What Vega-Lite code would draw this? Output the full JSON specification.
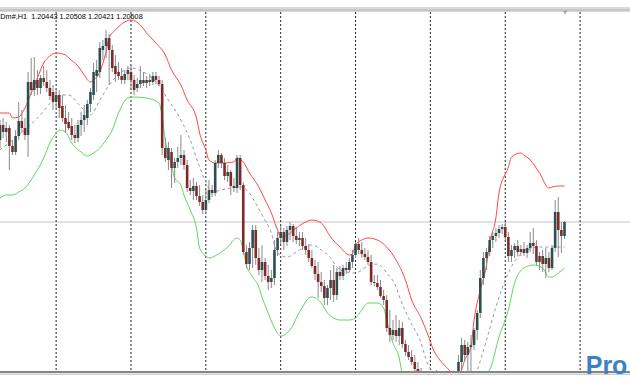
{
  "$schema": "https://vega.github.io/schema/vega-lite/v6.json",
  "width": 630,
  "height": 372,
  "padding": {"left": 0, "top": 0, "right": 0, "bottom": 8},
  "autosize": {"type": "none"},
  "background": "white",
  "config": {"view": {"stroke": null}, "scale": {"continuousPadding": 0}},
  "datasets": {
    "candles": [
      {"i":0,"o":1.2360,"h":1.2380,"l":1.2352,"c":1.2375},
      {"i":1,"o":1.2375,"h":1.2382,"l":1.2362,"c":1.2368},
      {"i":2,"o":1.2368,"h":1.2378,"l":1.2358,"c":1.2372},
      {"i":3,"o":1.2372,"h":1.2375,"l":1.2330,"c":1.2354},
      {"i":4,"o":1.2354,"h":1.2360,"l":1.2345,"c":1.2348},
      {"i":5,"o":1.2348,"h":1.2370,"l":1.2345,"c":1.2364},
      {"i":6,"o":1.2364,"h":1.2398,"l":1.2360,"c":1.2379},
      {"i":7,"o":1.2379,"h":1.2390,"l":1.2367,"c":1.2372},
      {"i":8,"o":1.2372,"h":1.2382,"l":1.2360,"c":1.2365},
      {"i":9,"o":1.2365,"h":1.2428,"l":1.2343,"c":1.2418},
      {"i":10,"o":1.2418,"h":1.2442,"l":1.2405,"c":1.2410},
      {"i":11,"o":1.2410,"h":1.2443,"l":1.2404,"c":1.2420},
      {"i":12,"o":1.2420,"h":1.2430,"l":1.2405,"c":1.2412},
      {"i":13,"o":1.2412,"h":1.2425,"l":1.2406,"c":1.2422},
      {"i":14,"o":1.2422,"h":1.2434,"l":1.2414,"c":1.2418},
      {"i":15,"o":1.2418,"h":1.2430,"l":1.2408,"c":1.2412},
      {"i":16,"o":1.2412,"h":1.2420,"l":1.2400,"c":1.2404},
      {"i":17,"o":1.2408,"h":1.2415,"l":1.2390,"c":1.2398},
      {"i":18,"o":1.2398,"h":1.2412,"l":1.2392,"c":1.2405},
      {"i":19,"o":1.2405,"h":1.2410,"l":1.2382,"c":1.2392},
      {"i":20,"o":1.2394,"h":1.2405,"l":1.2378,"c":1.2382},
      {"i":21,"o":1.2382,"h":1.2395,"l":1.2367,"c":1.2376},
      {"i":22,"o":1.2378,"h":1.2388,"l":1.2370,"c":1.2372},
      {"i":23,"o":1.2374,"h":1.2382,"l":1.2360,"c":1.2365},
      {"i":24,"o":1.2365,"h":1.2375,"l":1.2357,"c":1.2362},
      {"i":25,"o":1.2362,"h":1.2380,"l":1.2358,"c":1.2375},
      {"i":26,"o":1.2375,"h":1.2388,"l":1.2364,"c":1.2380},
      {"i":27,"o":1.2380,"h":1.2395,"l":1.2368,"c":1.2385},
      {"i":28,"o":1.2382,"h":1.2400,"l":1.2375,"c":1.2396},
      {"i":29,"o":1.2396,"h":1.2412,"l":1.2388,"c":1.2408},
      {"i":30,"o":1.2405,"h":1.2437,"l":1.2400,"c":1.2428},
      {"i":31,"o":1.2424,"h":1.2440,"l":1.2408,"c":1.2430},
      {"i":32,"o":1.2428,"h":1.2458,"l":1.2422,"c":1.2452},
      {"i":33,"o":1.2450,"h":1.2460,"l":1.2440,"c":1.2454},
      {"i":34,"o":1.2454,"h":1.2470,"l":1.2442,"c":1.2462},
      {"i":35,"o":1.2462,"h":1.2466,"l":1.2415,"c":1.2450},
      {"i":36,"o":1.2450,"h":1.2455,"l":1.2428,"c":1.2432},
      {"i":37,"o":1.2434,"h":1.2445,"l":1.2418,"c":1.2426},
      {"i":38,"o":1.2428,"h":1.2438,"l":1.2420,"c":1.2424},
      {"i":39,"o":1.2424,"h":1.2432,"l":1.2416,"c":1.2420},
      {"i":40,"o":1.2420,"h":1.2430,"l":1.2416,"c":1.2426},
      {"i":41,"o":1.2426,"h":1.2434,"l":1.2420,"c":1.2430},
      {"i":42,"o":1.2428,"h":1.2435,"l":1.2410,"c":1.2420},
      {"i":43,"o":1.2420,"h":1.2425,"l":1.2405,"c":1.2410},
      {"i":44,"o":1.2412,"h":1.2422,"l":1.2408,"c":1.2416},
      {"i":45,"o":1.2416,"h":1.2434,"l":1.2412,"c":1.2420},
      {"i":46,"o":1.2420,"h":1.2428,"l":1.2414,"c":1.2417},
      {"i":47,"o":1.2417,"h":1.2424,"l":1.2412,"c":1.2420},
      {"i":48,"o":1.2420,"h":1.2426,"l":1.2414,"c":1.2418},
      {"i":49,"o":1.2418,"h":1.2428,"l":1.2415,"c":1.2424},
      {"i":50,"o":1.2424,"h":1.2428,"l":1.2416,"c":1.2420},
      {"i":51,"o":1.2420,"h":1.2424,"l":1.2414,"c":1.2416},
      {"i":52,"o":1.2416,"h":1.2420,"l":1.2345,"c":1.2352},
      {"i":53,"o":1.2352,"h":1.2362,"l":1.2338,"c":1.2342},
      {"i":54,"o":1.2340,"h":1.2358,"l":1.2330,"c":1.2352},
      {"i":55,"o":1.2348,"h":1.2352,"l":1.2312,"c":1.2332},
      {"i":56,"o":1.2332,"h":1.2342,"l":1.2317,"c":1.2338},
      {"i":57,"o":1.2338,"h":1.2353,"l":1.2332,"c":1.2342},
      {"i":58,"o":1.2342,"h":1.2365,"l":1.2335,"c":1.2345},
      {"i":59,"o":1.2345,"h":1.2350,"l":1.2330,"c":1.2335},
      {"i":60,"o":1.2335,"h":1.2340,"l":1.2308,"c":1.2312},
      {"i":61,"o":1.2312,"h":1.2320,"l":1.2305,"c":1.2309},
      {"i":62,"o":1.2309,"h":1.2322,"l":1.2300,"c":1.2314},
      {"i":63,"o":1.2314,"h":1.2318,"l":1.2300,"c":1.2304},
      {"i":64,"o":1.2304,"h":1.2315,"l":1.2294,"c":1.2298},
      {"i":65,"o":1.2298,"h":1.2305,"l":1.2286,"c":1.2290},
      {"i":66,"o":1.2290,"h":1.2310,"l":1.2287,"c":1.2300},
      {"i":67,"o":1.2300,"h":1.2320,"l":1.2297,"c":1.2310},
      {"i":68,"o":1.2310,"h":1.2315,"l":1.2303,"c":1.2307},
      {"i":69,"o":1.2307,"h":1.2340,"l":1.2304,"c":1.2337},
      {"i":70,"o":1.2337,"h":1.2350,"l":1.2332,"c":1.2345},
      {"i":71,"o":1.2345,"h":1.2347,"l":1.2332,"c":1.2337},
      {"i":72,"o":1.2337,"h":1.2342,"l":1.2320,"c":1.2324},
      {"i":73,"o":1.2324,"h":1.2335,"l":1.2318,"c":1.2328},
      {"i":74,"o":1.2328,"h":1.2330,"l":1.2305,"c":1.2314},
      {"i":75,"o":1.2314,"h":1.2322,"l":1.2308,"c":1.2312},
      {"i":76,"o":1.2312,"h":1.2345,"l":1.2307,"c":1.2342},
      {"i":77,"o":1.2342,"h":1.2345,"l":1.2310,"c":1.2315},
      {"i":78,"o":1.2315,"h":1.2318,"l":1.2245,"c":1.2248},
      {"i":79,"o":1.2248,"h":1.2255,"l":1.2232,"c":1.2236},
      {"i":80,"o":1.2236,"h":1.2258,"l":1.2230,"c":1.2252},
      {"i":81,"o":1.2252,"h":1.2275,"l":1.2232,"c":1.2270},
      {"i":82,"o":1.2270,"h":1.2275,"l":1.2235,"c":1.2242},
      {"i":83,"o":1.2242,"h":1.2252,"l":1.2225,"c":1.2230},
      {"i":84,"o":1.2230,"h":1.2255,"l":1.2218,"c":1.2238},
      {"i":85,"o":1.2238,"h":1.2242,"l":1.2220,"c":1.2224},
      {"i":86,"o":1.2224,"h":1.2235,"l":1.2210,"c":1.2218},
      {"i":87,"o":1.2218,"h":1.2230,"l":1.2212,"c":1.2222},
      {"i":88,"o":1.2222,"h":1.2260,"l":1.2215,"c":1.2250},
      {"i":89,"o":1.2250,"h":1.2268,"l":1.2244,"c":1.2262},
      {"i":90,"o":1.2262,"h":1.2274,"l":1.2256,"c":1.2268},
      {"i":91,"o":1.2268,"h":1.2272,"l":1.2250,"c":1.2258},
      {"i":92,"o":1.2258,"h":1.2274,"l":1.2254,"c":1.2270},
      {"i":93,"o":1.2270,"h":1.2278,"l":1.2260,"c":1.2274},
      {"i":94,"o":1.2274,"h":1.2276,"l":1.2258,"c":1.2264},
      {"i":95,"o":1.2264,"h":1.2273,"l":1.2256,"c":1.2260},
      {"i":96,"o":1.2260,"h":1.2268,"l":1.2254,"c":1.2262},
      {"i":97,"o":1.2262,"h":1.2268,"l":1.2250,"c":1.2254},
      {"i":98,"o":1.2254,"h":1.2262,"l":1.2245,"c":1.2250},
      {"i":99,"o":1.2250,"h":1.2256,"l":1.2238,"c":1.2242},
      {"i":100,"o":1.2242,"h":1.2250,"l":1.2232,"c":1.2234},
      {"i":101,"o":1.2234,"h":1.2240,"l":1.2220,"c":1.2226},
      {"i":102,"o":1.2226,"h":1.2238,"l":1.2202,"c":1.2218},
      {"i":103,"o":1.2218,"h":1.2228,"l":1.2208,"c":1.2214},
      {"i":104,"o":1.2214,"h":1.2220,"l":1.2195,"c":1.2202},
      {"i":105,"o":1.2202,"h":1.2215,"l":1.2195,"c":1.2212},
      {"i":106,"o":1.2212,"h":1.2230,"l":1.2200,"c":1.2220},
      {"i":107,"o":1.2220,"h":1.2235,"l":1.2198,"c":1.2205},
      {"i":108,"o":1.2205,"h":1.2232,"l":1.2200,"c":1.2228},
      {"i":109,"o":1.2228,"h":1.2234,"l":1.2220,"c":1.2224},
      {"i":110,"o":1.2224,"h":1.2235,"l":1.2220,"c":1.2232},
      {"i":111,"o":1.2232,"h":1.2238,"l":1.2226,"c":1.2230},
      {"i":112,"o":1.2230,"h":1.2242,"l":1.2228,"c":1.2238},
      {"i":113,"o":1.2238,"h":1.2250,"l":1.2232,"c":1.2245},
      {"i":114,"o":1.2245,"h":1.2258,"l":1.2242,"c":1.2256},
      {"i":115,"o":1.2256,"h":1.2262,"l":1.2246,"c":1.2250},
      {"i":116,"o":1.2250,"h":1.2258,"l":1.2242,"c":1.2246},
      {"i":117,"o":1.2246,"h":1.2252,"l":1.2240,"c":1.2243},
      {"i":118,"o":1.2243,"h":1.2250,"l":1.2235,"c":1.2238},
      {"i":119,"o":1.2238,"h":1.2245,"l":1.2215,"c":1.2218},
      {"i":120,"o":1.2218,"h":1.2225,"l":1.2214,"c":1.2217},
      {"i":121,"o":1.2217,"h":1.2225,"l":1.2210,"c":1.2213},
      {"i":122,"o":1.2213,"h":1.2220,"l":1.2202,"c":1.2204},
      {"i":123,"o":1.2204,"h":1.2210,"l":1.2195,"c":1.2200},
      {"i":124,"o":1.2200,"h":1.2205,"l":1.2168,"c":1.2172},
      {"i":125,"o":1.2172,"h":1.2190,"l":1.2158,"c":1.2165},
      {"i":126,"o":1.2165,"h":1.2180,"l":1.2160,"c":1.2170},
      {"i":127,"o":1.2170,"h":1.2185,"l":1.2158,"c":1.2164},
      {"i":128,"o":1.2164,"h":1.2180,"l":1.2155,"c":1.2172},
      {"i":129,"o":1.2172,"h":1.2178,"l":1.2152,"c":1.2156},
      {"i":130,"o":1.2156,"h":1.2160,"l":1.2144,"c":1.2148},
      {"i":131,"o":1.2148,"h":1.2155,"l":1.2140,"c":1.2143},
      {"i":132,"o":1.2143,"h":1.2150,"l":1.2135,"c":1.2138},
      {"i":133,"o":1.2138,"h":1.2145,"l":1.2128,"c":1.2131},
      {"i":134,"o":1.2131,"h":1.2138,"l":1.2120,"c":1.2124},
      {"i":135,"o":1.2124,"h":1.2132,"l":1.2115,"c":1.2120},
      {"i":136,"o":1.2120,"h":1.2128,"l":1.2110,"c":1.2114},
      {"i":137,"o":1.2114,"h":1.2122,"l":1.2105,"c":1.2110},
      {"i":138,"o":1.2110,"h":1.2118,"l":1.2102,"c":1.2108},
      {"i":139,"o":1.2108,"h":1.2122,"l":1.2104,"c":1.2115},
      {"i":140,"o":1.2115,"h":1.2130,"l":1.2108,"c":1.2118},
      {"i":141,"o":1.2118,"h":1.2125,"l":1.2105,"c":1.2110},
      {"i":142,"o":1.2110,"h":1.2120,"l":1.2102,"c":1.2107},
      {"i":143,"o":1.2107,"h":1.2115,"l":1.2100,"c":1.2112},
      {"i":144,"o":1.2112,"h":1.2118,"l":1.2102,"c":1.2108},
      {"i":145,"o":1.2108,"h":1.2120,"l":1.2104,"c":1.2116},
      {"i":146,"o":1.2116,"h":1.2128,"l":1.2108,"c":1.2122},
      {"i":147,"o":1.2122,"h":1.2145,"l":1.2115,"c":1.2138},
      {"i":148,"o":1.2138,"h":1.2162,"l":1.2124,"c":1.2155},
      {"i":149,"o":1.2155,"h":1.2160,"l":1.2138,"c":1.2145},
      {"i":150,"o":1.2145,"h":1.2158,"l":1.2128,"c":1.2153},
      {"i":151,"o":1.2153,"h":1.2165,"l":1.2128,"c":1.2155},
      {"i":152,"o":1.2155,"h":1.2172,"l":1.2150,"c":1.2170},
      {"i":153,"o":1.2170,"h":1.2190,"l":1.2160,"c":1.2187},
      {"i":154,"o":1.2187,"h":1.2230,"l":1.2182,"c":1.2222},
      {"i":155,"o":1.2222,"h":1.2248,"l":1.2215,"c":1.2242},
      {"i":156,"o":1.2242,"h":1.2252,"l":1.2230,"c":1.2248},
      {"i":157,"o":1.2248,"h":1.2264,"l":1.2244,"c":1.2260},
      {"i":158,"o":1.2260,"h":1.2268,"l":1.2252,"c":1.2264},
      {"i":159,"o":1.2264,"h":1.2272,"l":1.2258,"c":1.2267},
      {"i":160,"o":1.2267,"h":1.2275,"l":1.2262,"c":1.2271},
      {"i":161,"o":1.2271,"h":1.2276,"l":1.2266,"c":1.2273},
      {"i":162,"o":1.2273,"h":1.2278,"l":1.2260,"c":1.2263},
      {"i":163,"o":1.2263,"h":1.2268,"l":1.2238,"c":1.2244},
      {"i":164,"o":1.2244,"h":1.2255,"l":1.2238,"c":1.2250},
      {"i":165,"o":1.2250,"h":1.2257,"l":1.2242,"c":1.2254},
      {"i":166,"o":1.2254,"h":1.2260,"l":1.2244,"c":1.2248},
      {"i":167,"o":1.2248,"h":1.2255,"l":1.2244,"c":1.2251},
      {"i":168,"o":1.2251,"h":1.2258,"l":1.2244,"c":1.2247},
      {"i":169,"o":1.2247,"h":1.2255,"l":1.2242,"c":1.2252},
      {"i":170,"o":1.2252,"h":1.2268,"l":1.2248,"c":1.2257},
      {"i":171,"o":1.2257,"h":1.2272,"l":1.2246,"c":1.2254},
      {"i":172,"o":1.2254,"h":1.2260,"l":1.2235,"c":1.2238},
      {"i":173,"o":1.2238,"h":1.2248,"l":1.2230,"c":1.2244},
      {"i":174,"o":1.2244,"h":1.2250,"l":1.2228,"c":1.2236},
      {"i":175,"o":1.2236,"h":1.2252,"l":1.2222,"c":1.2242},
      {"i":176,"o":1.2242,"h":1.2248,"l":1.2228,"c":1.2232},
      {"i":177,"o":1.2232,"h":1.2255,"l":1.2230,"c":1.2252},
      {"i":178,"o":1.2252,"h":1.2300,"l":1.2248,"c":1.2288},
      {"i":179,"o":1.2288,"h":1.2303,"l":1.2243,"c":1.2270},
      {"i":180,"o":1.2270,"h":1.2278,"l":1.2247,"c":1.2264},
      {"i":181,"o":1.2264,"h":1.2279,"l":1.2261,"c":1.2278}
    ],
    "upper": [
      {"i":0,"v":1.2387},{"i":3,"v":1.2387},{"i":4,"v":1.2382},{"i":6,"v":1.2383},{"i":8,"v":1.2392},{"i":10,"v":1.2407},{"i":12,"v":1.2422},{"i":14,"v":1.2437},{"i":16,"v":1.2444},{"i":18,"v":1.2447},{"i":21,"v":1.2445},{"i":22,"v":1.2442},{"i":25,"v":1.2434},{"i":27,"v":1.2425},{"i":29,"v":1.2418},{"i":30,"v":1.2420},{"i":32,"v":1.2428},{"i":34,"v":1.2448},{"i":35,"v":1.2462},{"i":37,"v":1.2470},{"i":39,"v":1.2476},{"i":42,"v":1.2480},{"i":45,"v":1.2475},{"i":47,"v":1.2467},{"i":50,"v":1.2457},{"i":53,"v":1.2445},{"i":55,"v":1.2430},{"i":58,"v":1.2415},{"i":60,"v":1.2400},{"i":63,"v":1.2382},{"i":64,"v":1.2367},{"i":66,"v":1.2350},{"i":67,"v":1.2340},{"i":69,"v":1.2337},{"i":72,"v":1.2337},{"i":75,"v":1.2338},{"i":76,"v":1.2342},{"i":78,"v":1.2338},{"i":80,"v":1.2327},{"i":83,"v":1.2313},{"i":85,"v":1.2300},{"i":87,"v":1.2287},{"i":89,"v":1.2270},{"i":90,"v":1.2263},{"i":92,"v":1.2265},{"i":95,"v":1.2272},{"i":98,"v":1.2278},{"i":100,"v":1.2280},{"i":103,"v":1.2277},{"i":106,"v":1.2263},{"i":109,"v":1.2253},{"i":112,"v":1.2245},{"i":113,"v":1.2246},{"i":114,"v":1.2255},{"i":116,"v":1.2260},{"i":118,"v":1.2262},{"i":121,"v":1.2260},{"i":124,"v":1.2253},{"i":127,"v":1.2240},{"i":130,"v":1.2220},{"i":132,"v":1.2200},{"i":135,"v":1.2182},{"i":137,"v":1.2167},{"i":139,"v":1.2150},{"i":141,"v":1.2140},{"i":144,"v":1.2130},{"i":146,"v":1.2122},{"i":148,"v":1.2130},{"i":149,"v":1.2140},{"i":151,"v":1.2153},{"i":152,"v":1.2180},{"i":154,"v":1.2210},{"i":156,"v":1.2235},{"i":157,"v":1.2257},{"i":159,"v":1.2282},{"i":160,"v":1.2307},{"i":163,"v":1.2333},{"i":164,"v":1.2343},{"i":167,"v":1.2347},{"i":168,"v":1.2345},{"i":170,"v":1.2340},{"i":173,"v":1.2327},{"i":176,"v":1.2312},{"i":177,"v":1.2313},{"i":179,"v":1.2314},{"i":181,"v":1.2314}
    ],
    "lower": [
      {"i":0,"v":1.2302},{"i":2,"v":1.2305},{"i":4,"v":1.2305},{"i":6,"v":1.2308},{"i":8,"v":1.2312},{"i":11,"v":1.2325},{"i":14,"v":1.2342},{"i":16,"v":1.2357},{"i":18,"v":1.2367},{"i":19,"v":1.2370},{"i":21,"v":1.2368},{"i":23,"v":1.2357},{"i":26,"v":1.2348},{"i":28,"v":1.2344},{"i":30,"v":1.2347},{"i":32,"v":1.2352},{"i":34,"v":1.2360},{"i":36,"v":1.2370},{"i":38,"v":1.2387},{"i":41,"v":1.2402},{"i":43,"v":1.2403},{"i":47,"v":1.2402},{"i":51,"v":1.2397},{"i":52,"v":1.2383},{"i":53,"v":1.2360},{"i":55,"v":1.2335},{"i":56,"v":1.2322},{"i":58,"v":1.2315},{"i":59,"v":1.2305},{"i":61,"v":1.2290},{"i":63,"v":1.2272},{"i":64,"v":1.2252},{"i":66,"v":1.2244},{"i":67,"v":1.2242},{"i":70,"v":1.2246},{"i":73,"v":1.2253},{"i":76,"v":1.2262},{"i":77,"v":1.2260},{"i":78,"v":1.2250},{"i":79,"v":1.2235},{"i":81,"v":1.2223},{"i":83,"v":1.2213},{"i":84,"v":1.2203},{"i":86,"v":1.2187},{"i":88,"v":1.2172},{"i":90,"v":1.2164},{"i":92,"v":1.2167},{"i":94,"v":1.2175},{"i":95,"v":1.2182},{"i":97,"v":1.2193},{"i":99,"v":1.2202},{"i":100,"v":1.2203},{"i":103,"v":1.2197},{"i":105,"v":1.2187},{"i":107,"v":1.2182},{"i":109,"v":1.2180},{"i":112,"v":1.2180},{"i":114,"v":1.2182},{"i":116,"v":1.2190},{"i":118,"v":1.2197},{"i":121,"v":1.2197},{"i":123,"v":1.2192},{"i":124,"v":1.2180},{"i":126,"v":1.2157},{"i":128,"v":1.2142},{"i":129,"v":1.2125},{"i":131,"v":1.2105},{"i":135,"v":1.2090},{"i":141,"v":1.2080},{"i":148,"v":1.2090},{"i":154,"v":1.2110},{"i":156,"v":1.2126},{"i":157,"v":1.2130},{"i":160,"v":1.2163},{"i":163,"v":1.2190},{"i":165,"v":1.2217},{"i":168,"v":1.2232},{"i":171,"v":1.2235},{"i":174,"v":1.2232},{"i":176,"v":1.2223},{"i":177,"v":1.2223},{"i":179,"v":1.2227},{"i":181,"v":1.2232}
    ],
    "middle": [
      {"i":0,"v":1.2350},{"i":4,"v":1.2360},{"i":9,"v":1.2373},{"i":14,"v":1.2389},{"i":15,"v":1.2393},{"i":18,"v":1.2402},{"i":20,"v":1.2405},{"i":22,"v":1.2405},{"i":26,"v":1.2393},{"i":29,"v":1.2385},{"i":32,"v":1.2400},{"i":35,"v":1.2415},{"i":39,"v":1.2428},{"i":42,"v":1.2432},{"i":46,"v":1.2428},{"i":50,"v":1.2418},{"i":54,"v":1.2400},{"i":58,"v":1.2380},{"i":61,"v":1.2360},{"i":64,"v":1.2333},{"i":66,"v":1.2318},{"i":68,"v":1.2308},{"i":71,"v":1.2310},{"i":74,"v":1.2312},{"i":77,"v":1.2313},{"i":80,"v":1.2307},{"i":81,"v":1.2302},{"i":84,"v":1.2285},{"i":87,"v":1.2267},{"i":89,"v":1.2247},{"i":92,"v":1.2243},{"i":96,"v":1.2250},{"i":100,"v":1.2255},{"i":103,"v":1.2250},{"i":106,"v":1.2242},{"i":108,"v":1.2233},{"i":111,"v":1.2228},{"i":114,"v":1.2227},{"i":118,"v":1.2234},{"i":121,"v":1.2236},{"i":124,"v":1.2227},{"i":127,"v":1.2213},{"i":128,"v":1.2204},{"i":131,"v":1.2182},{"i":135,"v":1.2157},{"i":137,"v":1.2137},{"i":140,"v":1.2125},{"i":144,"v":1.2108},{"i":149,"v":1.2112},{"i":153,"v":1.2130},{"i":156,"v":1.2160},{"i":159,"v":1.2193},{"i":163,"v":1.2227},{"i":166,"v":1.2243},{"i":169,"v":1.2250},{"i":173,"v":1.2253},{"i":176,"v":1.2253},{"i":181,"v":1.2253}
    ],
    "grid": [{"i":18},{"i":42},{"i":66},{"i":90},{"i":114},{"i":138},{"i":162},{"i":186}]
  },
  "layer": [
    {
      "data": {"values": [{"y": 1.2492}]},
      "mark": {"type": "rule", "color": "#dadada", "strokeWidth": 2},
      "encoding": {"y": {"field": "y", "type": "quantitative", "scale": {"domain": [1.2128, 1.25], "nice": false, "zero": false}, "axis": null}}
    },
    {
      "data": {"values": [{"y": 1.2490}]},
      "mark": {"type": "rule", "color": "#8c8c8c", "strokeWidth": 1},
      "encoding": {"y": {"field": "y", "type": "quantitative", "scale": {"domain": [1.2128, 1.25], "nice": false, "zero": false}, "axis": null}}
    },
    {
      "data": {"values": [{"y": 1.24885}]},
      "mark": {"type": "rule", "color": "#d8d8d8", "strokeWidth": 1},
      "encoding": {"y": {"field": "y", "type": "quantitative", "scale": {"domain": [1.2128, 1.25], "nice": false, "zero": false}, "axis": null}}
    },
    {
      "data": {"values": [{"bid": 1.2278}]},
      "mark": {"type": "rule", "color": "#c4c4c4", "strokeWidth": 1},
      "encoding": {"y": {"field": "bid", "type": "quantitative", "scale": {"domain": [1.2128, 1.25], "nice": false, "zero": false}, "axis": null}}
    },
    {
      "data": {"name": "grid"},
      "mark": {"type": "rule", "color": "#222222", "strokeWidth": 1, "strokeDash": [2, 2]},
      "encoding": {
        "x": {"field": "i", "type": "quantitative", "scale": {"domain": [0, 202], "nice": false, "zero": false, "padding": 0}, "axis": null},
        "y": {"datum": 1.2488, "type": "quantitative", "scale": {"domain": [1.2128, 1.25], "nice": false, "zero": false}, "axis": null},
        "y2": {"datum": 1.2128}
      }
    },
    {
      "data": {"name": "upper"},
      "mark": {"type": "line", "color": "#ff4747", "strokeWidth": 1, "interpolate": "monotone", "clip": true},
      "encoding": {
        "x": {"field": "i", "type": "quantitative", "scale": {"domain": [0, 202], "nice": false, "zero": false, "padding": 0}, "axis": null},
        "y": {"field": "v", "type": "quantitative", "scale": {"domain": [1.2128, 1.25], "nice": false, "zero": false}, "axis": null}
      }
    },
    {
      "data": {"name": "lower"},
      "mark": {"type": "line", "color": "#5fd65f", "strokeWidth": 1, "interpolate": "monotone", "clip": true},
      "encoding": {
        "x": {"field": "i", "type": "quantitative", "scale": {"domain": [0, 202], "nice": false, "zero": false, "padding": 0}, "axis": null},
        "y": {"field": "v", "type": "quantitative", "scale": {"domain": [1.2128, 1.25], "nice": false, "zero": false}, "axis": null}
      }
    },
    {
      "data": {"name": "middle"},
      "mark": {"type": "line", "color": "#9a9a9a", "strokeWidth": 1, "strokeDash": [3, 3], "interpolate": "monotone", "clip": true},
      "encoding": {
        "x": {"field": "i", "type": "quantitative", "scale": {"domain": [0, 202], "nice": false, "zero": false, "padding": 0}, "axis": null},
        "y": {"field": "v", "type": "quantitative", "scale": {"domain": [1.2128, 1.25], "nice": false, "zero": false}, "axis": null}
      }
    },
    {
      "data": {"name": "candles"},
      "mark": {"type": "rule", "color": "#8a8a8a", "strokeWidth": 1, "clip": true},
      "encoding": {
        "x": {"field": "i", "type": "quantitative", "scale": {"domain": [0, 202], "nice": false, "zero": false, "padding": 0}, "axis": null},
        "y": {"field": "l", "type": "quantitative", "scale": {"domain": [1.2128, 1.25], "nice": false, "zero": false}, "axis": null},
        "y2": {"field": "h"}
      }
    },
    {
      "data": {"name": "candles"},
      "mark": {"type": "bar", "size": 2.6, "clip": true},
      "encoding": {
        "x": {"field": "i", "type": "quantitative", "scale": {"domain": [0, 202], "nice": false, "zero": false, "padding": 0}, "axis": null},
        "y": {"field": "o", "type": "quantitative", "scale": {"domain": [1.2128, 1.25], "nice": false, "zero": false}, "axis": null},
        "y2": {"field": "c"},
        "color": {"condition": {"test": "datum.c > datum.o", "value": "#2c4f4f"}, "value": "#7e2a2a"}
      }
    },
    {
      "data": {"values": [{"y": 1.2128}]},
      "mark": {"type": "rule", "color": "#858585", "strokeWidth": 2},
      "encoding": {"y": {"field": "y", "type": "quantitative", "scale": {"domain": [1.2128, 1.25], "nice": false, "zero": false}, "axis": null}}
    },
    {
      "data": {"values": [{"y": 1.21258}]},
      "mark": {"type": "rule", "color": "#cfcfcf", "strokeWidth": 1.5},
      "encoding": {"y": {"field": "y", "type": "quantitative", "scale": {"domain": [1.2128, 1.25], "nice": false, "zero": false}, "axis": null}}
    },
    {
      "data": {"values": [{"label": "Dm#,H1\u00a0\u00a01.20443 1.20508 1.20421 1.20508"}]},
      "mark": {"type": "text", "font": "Liberation Sans", "fontSize": 7.3, "color": "#000000", "align": "left", "baseline": "middle"},
      "encoding": {
        "x": {"datum": 0.1, "type": "quantitative", "scale": {"domain": [0, 202], "nice": false, "zero": false, "padding": 0}, "axis": null},
        "y": {"datum": 1.2483, "type": "quantitative", "scale": {"domain": [1.2128, 1.25], "nice": false, "zero": false}, "axis": null},
        "text": {"field": "label"}
      }
    },
    {
      "data": {"values": [{"shift": 181.2}]},
      "mark": {"type": "point", "shape": "triangle-down", "filled": true, "color": "#a8a8a8", "size": 22, "opacity": 1},
      "encoding": {
        "x": {"field": "shift", "type": "quantitative", "scale": {"domain": [0, 202], "nice": false, "zero": false, "padding": 0}, "axis": null},
        "y": {"datum": 1.24872, "type": "quantitative", "scale": {"domain": [1.2128, 1.25], "nice": false, "zero": false}, "axis": null}
      }
    },
    {
      "data": {"values": [{"logo": "Pro"}]},
      "mark": {"type": "text", "font": "Liberation Sans", "fontWeight": "bold", "fontSize": 25, "color": "#3b82c4", "align": "left", "baseline": "alphabetic"},
      "encoding": {
        "x": {"datum": 187.8, "type": "quantitative", "scale": {"domain": [0, 202], "nice": false, "zero": false, "padding": 0}, "axis": null},
        "y": {"datum": 1.21265, "type": "quantitative", "scale": {"domain": [1.2128, 1.25], "nice": false, "zero": false}, "axis": null},
        "text": {"field": "logo"}
      }
    }
  ]
}
